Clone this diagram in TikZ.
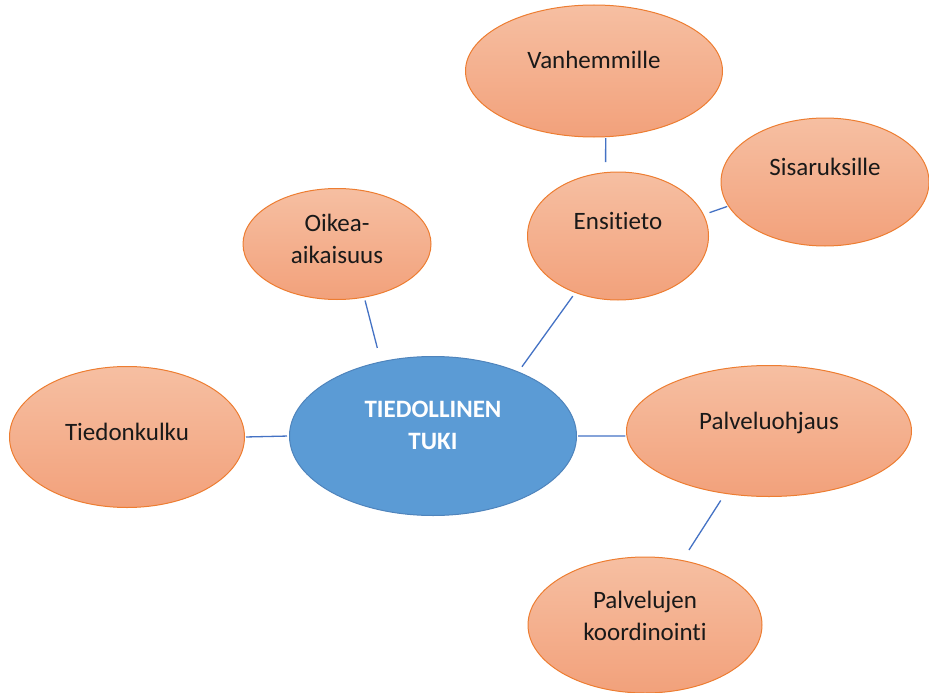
\documentclass[tikz,border=0pt]{standalone}
\usepackage{fontspec}
\setmainfont{Carlito}[Ligatures=NoCommon]
\usepackage{xcolor}
\usetikzlibrary{shapes.geometric, positioning}

\definecolor{oranssi}{HTML}{ED7D31}
\definecolor{oranssiyla}{HTML}{F6BFA2}
\definecolor{oranssiala}{HTML}{F2A17B}
\definecolor{sininen}{HTML}{5B9BD5}
\definecolor{sinireuna}{HTML}{4F84BC}
\definecolor{viiva}{HTML}{4472C4}

\begin{document}
\begin{tikzpicture}[x=1pt, y=-1pt,
    osa/.style={ellipse, draw=oranssi, line width=1pt, top color=oranssiyla, bottom color=oranssiala,
        inner sep=0pt, text depth=22pt, align=center, font=\fontsize{25}{32}\selectfont, text=black!90},
    keski/.style={ellipse, draw=sinireuna, line width=1pt, fill=sininen,
        inner sep=0pt, text depth=22pt, align=center, font=\fontsize{25}{32}\selectfont\bfseries, text=white},
    yhteys/.style={draw=viiva, line width=1.3pt}]
    \useasboundingbox (0,0) rectangle (929,693);

    % Keskus
    \node[keski, minimum width=287pt, minimum height=159pt] (tuki) at (433,436) {TIEDOLLINEN\\TUKI};

    % Osat
    \node[osa, minimum width=235pt, minimum height=141pt, text depth=10pt] (kulku) at (127,437) {Tiedonkulku};
    \node[osa, minimum width=188pt, minimum height=111pt, text depth=11pt] (oikea) at (337,244) {Oikea-\\aikaisuus};
    \node[osa, minimum width=181pt, minimum height=128pt, text depth=30pt] (ensi) at (618,236) {Ensitieto};
    \node[osa, minimum width=257pt, minimum height=132pt] (vanh) at (594,71) {Vanhemmille};
    \node[osa, minimum width=208pt, minimum height=128pt, text depth=30pt] (sisar) at (825,182) {Sisaruksille};
    \node[osa, minimum width=285pt, minimum height=131pt, text depth=20pt] (ohjaus) at (769,431) {Palveluohjaus};
    \node[osa, minimum width=234pt, minimum height=136pt, text depth=18pt] (koord) at (645,625) {Palvelujen\\koordinointi};

    % Yhteydet
    \draw[yhteys, shorten <=1pt, shorten >=2pt] (kulku.east) -- (tuki.west);
    \draw[yhteys, shorten <=3pt, shorten >=14pt] (oikea.-63) -- (tuki.125);
    \draw[yhteys, shorten <=4pt, shorten >=6pt] (ensi.-127) -- (tuki.37);
    \draw[yhteys, shorten <=1pt, shorten >=10pt] (vanh.-80) -- (ensi.101);
    \draw[yhteys, shorten <=1pt, shorten >=6pt] (sisar.194) -- (ensi.14);
    \draw[yhteys, shorten <=1pt, shorten >=1pt] (tuki.east) -- (ohjaus.182);
    \draw[yhteys, shorten <=8pt, shorten >=12pt] (ohjaus.-125) -- (koord.60);
\end{tikzpicture}
\end{document}
